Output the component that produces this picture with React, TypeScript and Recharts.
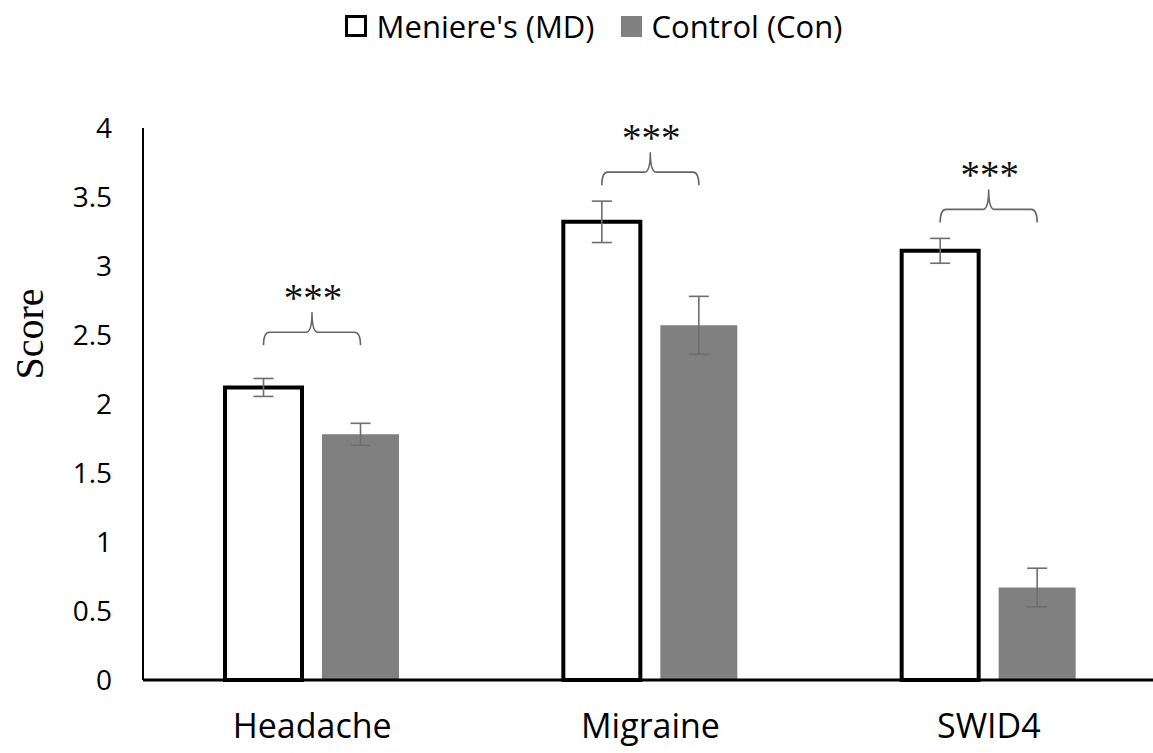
import { Bar, BarChart, ErrorBar, LabelList, XAxis, YAxis } from "recharts";

const categories = ["Headache", "Migraine", "SWID4"];
const mdMeans = [2.12, 3.32, 3.11];
const mdErrors = [0.065, 0.15, 0.09];
const conMeans = [1.78, 2.57, 0.67];
const conErrors = [0.08, 0.21, 0.14];
const bracketLevels = [2.52, 3.68, 3.41];
const sigLabels = ["***", "***", "***"];
const yTicks = [0, 0.5, 1, 1.5, 2, 2.5, 3, 3.5, 4];

const BAR_SIZE = 77;
const BAR_GAP = 20;
const SANS = "'Open Sans', sans-serif";
const SERIF = "'Liberation Serif', serif";

const data = categories.map((name, i) => ({
  name,
  md: mdMeans[i],
  mdErr: mdErrors[i],
  con: conMeans[i],
  conErr: conErrors[i],
}));

// curly bracket + stars above each pair, positioned from the MD bar geometry
function Bracket(props: any) {
  const vb = props.viewBox ?? props;
  const idx = props.index ?? 0;
  const bottom = vb.y + vb.height;
  const pxPerUnit = vb.height / mdMeans[idx];
  const h = bottom - bracketLevels[idx] * pxPerUnit;
  const L = vb.x + vb.width / 2;
  const R = L + BAR_SIZE + BAR_GAP;
  const C = (L + R) / 2;
  const d = `M ${L} ${h + 13} Q ${L} ${h} ${L + 6} ${h} L ${C - 6} ${h} Q ${C} ${h} ${C} ${h - 20} Q ${C} ${h} ${C + 6} ${h} L ${R - 6} ${h} Q ${R} ${h} ${R} ${h + 13}`;
  return (
    <g>
      <path d={d} fill="none" stroke="#666" strokeWidth={1.6} />
      <text x={C + 1} y={h - 21} textAnchor="middle" fontFamily={SERIF} fontSize={39} fill="#111">
        {sigLabels[idx]}
      </text>
    </g>
  );
}

function ScoreLabel() {
  return (
    <text
      x={29}
      y={334}
      transform="rotate(-90, 29, 334)"
      textAnchor="middle"
      dominantBaseline="central"
      fontFamily={SERIF}
      fontSize={40}
      fill="#000"
    >
      Score
    </text>
  );
}

function LegendBox() {
  return (
    <div
      style={{
        position: "absolute",
        top: 5,
        left: 0,
        width: 1153,
        display: "flex",
        justifyContent: "center",
        alignItems: "center",
        fontFamily: SANS,
        fontSize: 31,
        color: "#000",
        paddingLeft: 34,
        boxSizing: "border-box",
      }}
    >
      <span style={{ display: "inline-block", width: 16, height: 16, border: "3px solid #000", marginRight: 10 }} />
      <span style={{ marginRight: 26 }}>Meniere's (MD)</span>
      <span style={{ display: "inline-block", width: 21, height: 21, background: "#808080", marginRight: 10 }} />
      <span>Control (Con)</span>
    </div>
  );
}

export default function App() {
  return (
    <div style={{ position: "absolute", left: 0, top: 0, width: 1153, height: 753, overflow: "hidden", background: "#fff" }}>
      <LegendBox />
      <div style={{ position: "absolute", left: 0, top: 0 }}>
        <BarChart
          width={1160}
          height={753}
          data={data}
          margin={{ top: 128, right: 2, left: 0, bottom: 0 }}
          barGap={BAR_GAP}
          barSize={BAR_SIZE}
        >
          <XAxis
            dataKey="name"
            axisLine={{ stroke: "#000", strokeWidth: 3 }}
            tickLine={false}
            tickSize={0}
            tickMargin={34}
            height={73}
            tick={{ fontSize: 34, fill: "#000", fontFamily: SANS }}
          />
          <YAxis
            domain={[0, 4]}
            ticks={yTicks}
            width={143}
            axisLine={{ stroke: "#000", strokeWidth: 2 }}
            tickLine={false}
            tickSize={0}
            tickMargin={31}
            tick={{ fontSize: 28, fill: "#000", fontFamily: SANS }}
            label={{ content: ScoreLabel }}
          />
          <Bar dataKey="md" fill="#fff" stroke="#000" strokeWidth={4} isAnimationActive={false}>
            <ErrorBar dataKey="mdErr" width={10} stroke="#6e6e6e" strokeWidth={1.6} />
            <LabelList dataKey="md" content={Bracket} />
          </Bar>
          <Bar dataKey="con" fill="#808080" isAnimationActive={false}>
            <ErrorBar dataKey="conErr" width={10} stroke="#6e6e6e" strokeWidth={1.6} />
          </Bar>
        </BarChart>
      </div>
    </div>
  );
}
